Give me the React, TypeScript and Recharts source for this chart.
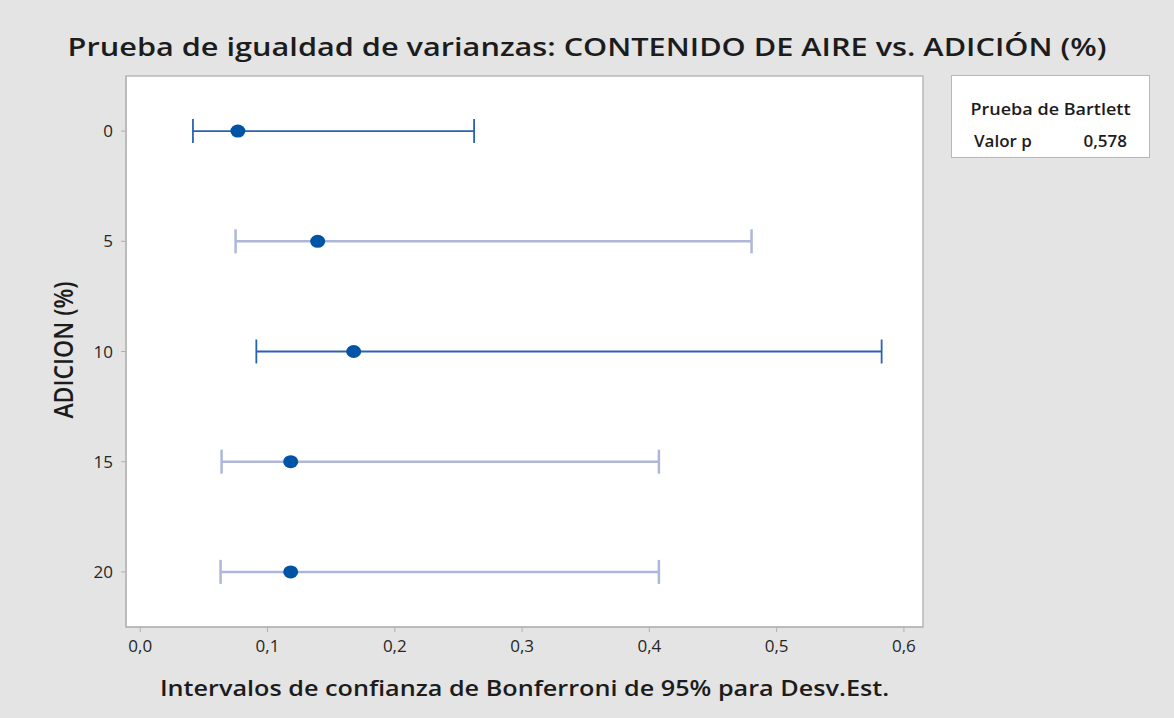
import React from "react";
import {
  ScatterChart,
  Scatter,
  XAxis,
  YAxis,
  ErrorBar,
  ReferenceArea,
} from "recharts";

// ADICIÓN (%) groups and Bonferroni 95% intervals for the std. dev.
const groups = [0, 5, 10, 15, 20];
const sigma = [0.0767, 0.1394, 0.1677, 0.1182, 0.1182];
const lower = [0.0414, 0.0749, 0.0912, 0.0639, 0.0631];
const upper = [0.2623, 0.4803, 0.5825, 0.4075, 0.4075];
const darkRows = [0, 10];

const xTicks = [0, 0.1, 0.2, 0.3, 0.4, 0.5, 0.6];
const yTicks = [0, 5, 10, 15, 20];

const X_DOMAIN: [number, number] = [-0.0112, 0.615];
const Y_DOMAIN: [number, number] = [-2.5, 22.5];

const FONT = "'Open Sans', 'Noto Sans', sans-serif";

const rows = groups.map((g, i) => ({
  cat: g,
  sd: sigma[i],
  err: [sigma[i] - lower[i], upper[i] - sigma[i]],
}));
const darkData = rows.filter((r) => darkRows.includes(r.cat));
const lightData = rows.filter((r) => !darkRows.includes(r.cat));

const Dot = (props: any) => (
  <ellipse cx={props.cx} cy={props.cy} rx={7.5} ry={6.5} fill="#0054a6" />
);

const fmt = (v: number) => v.toFixed(1).replace(".", ",");

export default function App() {
  return (
    <div
      style={{
        position: "relative",
        width: 1174,
        height: 718,
        background: "#e4e4e4",
        fontFamily: FONT,
        color: "#1c1c1c",
      }}
    >
      <style>{`body{margin:0}`}</style>
      <div
        style={{
          position: "absolute",
          top: 28,
          left: 0,
          width: 1174,
          textAlign: "center",
          fontSize: 26,
          fontWeight: 600,
          transform: "scaleX(1.18)",
          whiteSpace: "nowrap",
        }}
      >
        Prueba de igualdad de varianzas: CONTENIDO DE AIRE vs. ADICIÓN (%)
      </div>

      <ScatterChart
        width={1174}
        height={718}
        margin={{ top: 76, right: 251, bottom: 0, left: 0 }}
        style={{ position: "absolute", top: 0, left: 0 }}
      >
        <XAxis
          type="number"
          dataKey="sd"
          domain={X_DOMAIN}
          ticks={xTicks}
          allowDataOverflow
          tickFormatter={fmt}
          height={91}
          stroke="#b0b0b0"
          tickSize={5}
          tickMargin={8}
          tick={{ fill: "#262626", fontSize: 17, fontFamily: FONT }}
        />
        <YAxis
          type="number"
          dataKey="cat"
          domain={Y_DOMAIN}
          ticks={yTicks}
          reversed
          allowDataOverflow
          width={126}
          stroke="#b0b0b0"
          tickSize={5}
          tickMargin={8}
          tick={{ fill: "#262626", fontSize: 17, fontFamily: FONT }}
        />
        <ReferenceArea
          x1={X_DOMAIN[0]}
          x2={X_DOMAIN[1]}
          y1={Y_DOMAIN[0]}
          y2={Y_DOMAIN[1]}
          fill="#ffffff"
          fillOpacity={1}
          stroke="#b8b8b8"
          strokeWidth={1.5}
        />
        <Scatter data={lightData} shape={Dot} isAnimationActive={false}>
          <ErrorBar
            dataKey="err"
            direction="x"
            width={12}
            stroke="#aeb7d9"
            strokeWidth={2.5}
            isAnimationActive={false}
          />
        </Scatter>
        <Scatter data={darkData} shape={Dot} isAnimationActive={false}>
          <ErrorBar
            dataKey="err"
            direction="x"
            width={12}
            stroke="#2a62b3"
            strokeWidth={1.8}
            isAnimationActive={false}
          />
        </Scatter>
      </ScatterChart>

      <div
        style={{
          position: "absolute",
          left: 63,
          top: 350,
          transform: "translate(-50%, -50%) scaleX(1.15) rotate(-90deg)",
          fontSize: 23,
          fontWeight: 600,
          whiteSpace: "nowrap",
        }}
      >
        ADICION (%)
      </div>
      <div
        style={{
          position: "absolute",
          top: 674,
          left: 126,
          width: 797,
          textAlign: "center",
          fontSize: 21,
          fontWeight: 600,
          transform: "scaleX(1.2)",
          whiteSpace: "nowrap",
        }}
      >
        Intervalos de confianza de Bonferroni de 95% para Desv.Est.
      </div>

      <div
        style={{
          position: "absolute",
          left: 951,
          top: 75,
          width: 197,
          height: 81,
          background: "#ffffff",
          border: "1.5px solid #b8b8b8",
          fontSize: 17,
          fontWeight: 600,
        }}
      >
        <div
          style={{
            position: "absolute",
            top: 21,
            width: "100%",
            textAlign: "center",
            transform: "scaleX(1.06)",
          }}
        >
          Prueba de Bartlett
        </div>
        <div style={{ position: "absolute", top: 53, left: 22 }}>Valor p</div>
        <div style={{ position: "absolute", top: 53, right: 22 }}>0,578</div>
      </div>
    </div>
  );
}
